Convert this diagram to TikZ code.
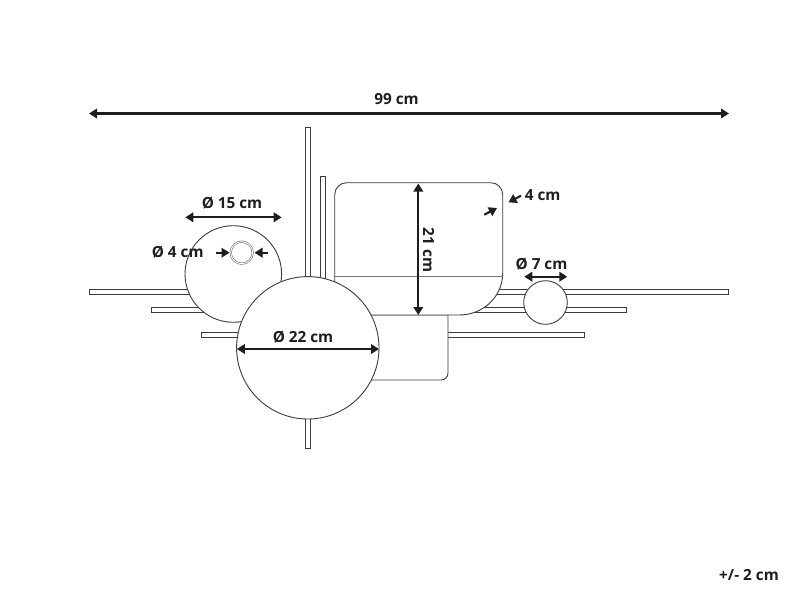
\documentclass[tikz,border=0pt]{standalone}
\usepackage{fontspec}
\setmainfont{Open Sans}
\usetikzlibrary{arrows.meta}
\definecolor{linegray}{HTML}{3C3C3C}
\definecolor{dimblack}{HTML}{1E1E1E}
\begin{document}
\begin{tikzpicture}[x=1pt, y=-1pt,
    bar/.style={draw=linegray, fill=white, line width=0.9pt},
    disc/.style={circle, draw=linegray, fill=white, line width=0.9pt, inner sep=0pt},
    dim/.style={draw=dimblack, line width=2.1pt, {Triangle[length=8pt,width=9.5pt]}-{Triangle[length=8pt,width=9.5pt]}},
    pointer/.style={draw=dimblack, line width=2.1pt, -{Triangle[length=8pt,width=9.5pt]}},
    label/.style={font=\bfseries\fontsize{15.3}{17}\selectfont, text=dimblack, inner sep=0pt}]
  \useasboundingbox (0,0) rectangle (800,600);
  % Bars behind the shade
  \draw[bar] (89,289) rectangle (728.7,294);
  \draw[bar] (151.7,307.7) rectangle (626.7,312.7);
  \draw[bar] (201.7,332.3) rectangle (584,337.5);
  \draw[bar] (305,127) rectangle (310,448.3);
  \draw[bar] (320,176.7) rectangle (325,300);
  % Shades
  \draw[bar] (340,315) -- (448,315) -- (448,373) .. controls (448,377) and (445,380) .. (441,380) -- (340,380) -- cycle;
  \draw[bar] (334.7,300) -- (334.7,194.7) .. controls (334.7,188) and (340,182.7) .. (346.7,182.7)
    -- (490.7,182.7) .. controls (497.4,182.7) and (502.7,188) .. (502.7,194.7)
    -- (502.7,273) .. controls (502.7,297) and (483,315) .. (459,315) -- (334.7,315) -- cycle;
  \draw[draw=linegray!70, line width=0.7pt] (334.7,276.7) -- (502.7,276.7);
  % Discs
  \node[disc, minimum size=96.6pt] (mid) at (233.3,274) {};
  \node[disc, minimum size=142.4pt] (big) at (307.8,347.8) {};
  \node[disc, minimum size=43.6pt] (small) at (545.5,302.5) {};
  \node[circle, draw=linegray!70, double=white, double distance=0.9pt, line width=0.6pt, inner sep=0pt, minimum size=22pt] (ring) at (241.7,252.7) {};
  \coordinate (fullL) at (89,113.5);
  \coordinate (fullR) at (729,113.5);
  \coordinate (midL) at (185.3,217.3);
  \coordinate (midR) at (281.7,217.3);
  \coordinate (bigL) at (236.9,349);
  \coordinate (bigR) at (379,349);
  \coordinate (tallT) at (418.3,183.5);
  \coordinate (tallB) at (418.3,315);
  \coordinate (smallL) at (524.3,276.7);
  \coordinate (smallR) at (567.3,276.7);
  \coordinate (ringA) at (216,252.7);
  \coordinate (ringB) at (229.5,252.7);
  \coordinate (ringC) at (267.7,252.7);
  \coordinate (ringD) at (254.5,252.7);
  \coordinate (cornA) at (521,195.7);
  \coordinate (cornB) at (508.5,202.3);
  \coordinate (cornC) at (484.3,214.7);
  \coordinate (cornD) at (497,208);
  % Dimensions
  \draw[dim] (fullL) -- (fullR);
  \draw[dim] (midL) -- (midR);
  \draw[dim] (bigL) -- (bigR);
  \draw[dim] (tallT) -- (tallB);
  \draw[dim] (smallL) -- (smallR);
  \draw[pointer] (ringA) -- (ringB);
  \draw[pointer] (ringC) -- (ringD);
  \draw[pointer] (cornA) -- (cornB);
  \draw[pointer] (cornC) -- (cornD);
  % Labels
  \node[label] (fullT) at (396.5,99.5) {99 cm};
  \node[label] (midT) at (232,203.5) {Ø 15 cm};
  \node[label] (ringT) at (177.7,252.5) {Ø 4 cm};
  \node[label] (bigT) at (303,337.5) {Ø 22 cm};
  \node[label, rotate=-90] (tallT2) at (428.5,250) {21 cm};
  \node[label] (cornT) at (542.7,195) {4 cm};
  \node[label] (smallT) at (541.5,264) {Ø 7 cm};
  \node[label] (tolT) at (749,575) {+/- 2 cm};
\end{tikzpicture}
\end{document}
